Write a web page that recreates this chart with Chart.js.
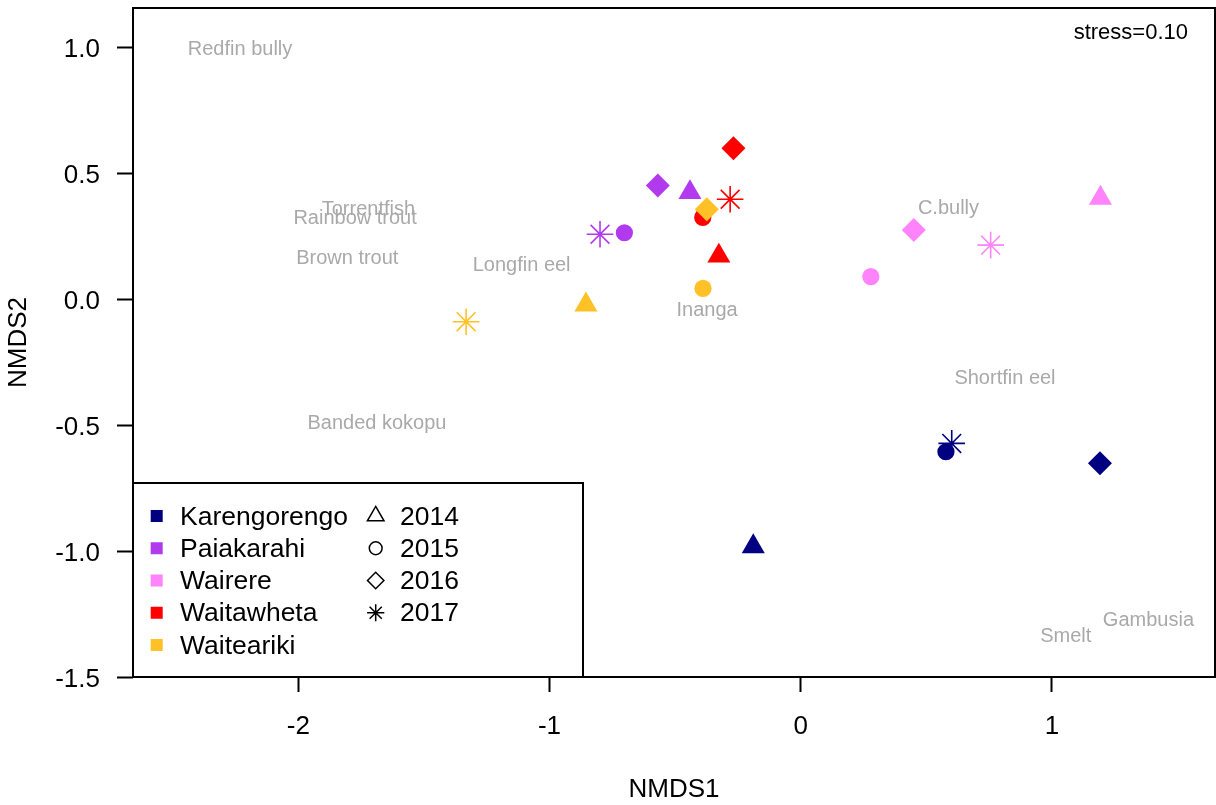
<!DOCTYPE html>
<html>
<head>
<meta charset="utf-8">
<title>NMDS ordination of fish communities</title>
<script src="https://cdn.jsdelivr.net/npm/chart.js@4/dist/chart.umd.min.js"></script>
<style>
  html, body { margin: 0; padding: 0; background: #ffffff; }
  #wrap { width: 1216px; height: 805px; }
</style>
</head>
<body>
<div id="wrap"><canvas id="nmds" width="1216" height="805"></canvas></div>
<script>
// ---- Sites, sampling years and their symbols ----
const sites = ['Karengorengo', 'Paiakarahi', 'Wairere', 'Waitawheta', 'Waiteariki'];
const siteColors = ['#000080', '#B23AEE', '#FF83FA', '#FF0000', '#FFC125'];
const years = ['2014', '2015', '2016', '2017'];
const yearShapes = ['triangle', 'circle', 'rectRot', 'star'];

// ---- Site scores (one value per year: 2014, 2015, 2016, 2017) ----
const karengorengoNMDS1 = [-0.189, 0.578, 1.191, 0.601];
const karengorengoNMDS2 = [-0.982, -0.606, -0.652, -0.573];
const paiakarahiNMDS1 = [-0.441, -0.702, -0.569, -0.799];
const paiakarahiNMDS2 = [0.423, 0.263, 0.451, 0.257];
const wairereNMDS1 = [1.193, 0.279, 0.450, 0.756];
const wairereNMDS2 = [0.401, 0.089, 0.274, 0.214];
const waitawhetaNMDS1 = [-0.326, -0.390, -0.268, -0.281];
const waitawhetaNMDS2 = [0.171, 0.324, 0.598, 0.396];
const waitearikiNMDS1 = [-0.855, -0.389, -0.374, -1.332];
const waitearikiNMDS2 = [-0.023, 0.042, 0.356, -0.090];

// ---- Species scores ----
const speciesNames = ['Redfin bully', 'Torrentfish', 'Rainbow trout', 'Brown trout', 'Longfin eel',
  'Inanga', 'C.bully', 'Shortfin eel', 'Banded kokopu', 'Smelt', 'Gambusia'];
const speciesNMDS1 = [-2.232, -1.721, -1.774, -1.805, -1.111, -0.373, 0.588, 0.813, -1.687, 1.055, 1.384];
const speciesNMDS2 = [0.996, 0.360, 0.324, 0.165, 0.139, -0.040, 0.364, -0.310, -0.488, -1.336, -1.271];

// ---- Axes ----
const nmds1Ticks = [-2, -1, 0, 1];
const nmds2Ticks = [-1.5, -1, -0.5, 0, 0.5, 1];
const nmds1Range = [-2.658, 1.649];
const nmds2Range = [-1.5, 1.155];
const stressLabel = 'stress=0.10';

const FONT = '"Liberation Sans", Arial, Helvetica, sans-serif';
Chart.defaults.font.family = FONT;

const siteScores = [
  [karengorengoNMDS1, karengorengoNMDS2],
  [paiakarahiNMDS1, paiakarahiNMDS2],
  [wairereNMDS1, wairereNMDS2],
  [waitawhetaNMDS1, waitawhetaNMDS2],
  [waitearikiNMDS1, waitearikiNMDS2]
];

// marker size and outline per year symbol
const markerRadius = [13.3, 8.6, 12, 13.3];
const markerBorder = [0, 0, 0, 1.6];

const datasets = sites.map((site, i) => {
  const [xs, ys] = siteScores[i];
  return {
    label: site,
    data: xs.map((x, j) => ({ x: x, y: ys[j] })),
    pointStyle: yearShapes,
    pointRadius: markerRadius,
    pointHoverRadius: markerRadius,
    pointBorderWidth: markerBorder,
    pointBackgroundColor: siteColors[i],
    pointBorderColor: siteColors[i],
    showLine: false,
    order: sites.length - i   // later sites drawn on top
  };
});

function drawSymbol(ctx, style, radius, lineWidth, x, y) {
  const h = Chart.helpers;
  if (h && h.drawPoint) {
    h.drawPoint(ctx, { pointStyle: style, radius: radius, borderWidth: lineWidth, rotation: 0 }, x, y);
    return;
  }
  ctx.beginPath();
  ctx.arc(x, y, radius, 0, Math.PI * 2);
  ctx.stroke();
}

// keep the plot box fixed: no extra room reserved for edge tick labels
function fixAxisBox(axis, size) {
  if (axis.isHorizontal()) axis.height = size; else axis.width = size;
  axis.paddingTop = 0;
  axis.paddingBottom = 0;
  axis.paddingLeft = 0;
  axis.paddingRight = 0;
}

const ordinationDecor = {
  id: 'ordinationDecor',
  beforeDatasetsDraw(chart) {
    const { ctx, scales } = chart;
    ctx.save();
    ctx.font = '20px ' + FONT;
    ctx.fillStyle = '#A9A9A9';
    ctx.textAlign = 'center';
    ctx.textBaseline = 'middle';
    speciesNames.forEach((name, i) => {
      ctx.fillText(name, scales.x.getPixelForValue(speciesNMDS1[i]), scales.y.getPixelForValue(speciesNMDS2[i]) + 1);
    });
    ctx.restore();
  },
  afterDraw(chart) {
    const { ctx, chartArea: a } = chart;
    ctx.save();
    // plot frame
    ctx.strokeStyle = '#000';
    ctx.lineWidth = 2;
    ctx.strokeRect(a.left, a.top, a.right - a.left, a.bottom - a.top);

    // stress value
    ctx.fillStyle = '#000';
    ctx.font = '22px ' + FONT;
    ctx.textAlign = 'right';
    ctx.textBaseline = 'middle';
    ctx.fillText(stressLabel, 1188, 33);

    // legend box in the lower-left corner
    const lx0 = a.left, ly0 = 483, lx1 = 583, ly1 = a.bottom;
    ctx.fillStyle = '#fff';
    ctx.fillRect(lx0, ly0, lx1 - lx0, ly1 - ly0);
    ctx.lineWidth = 2;
    ctx.strokeStyle = '#000';
    ctx.strokeRect(lx0, ly0, lx1 - lx0, ly1 - ly0);

    const rowY = i => 516 + i * 32.25;
    ctx.font = '26.5px ' + FONT;
    ctx.textAlign = 'left';
    ctx.textBaseline = 'middle';
    sites.forEach((site, i) => {
      const y = rowY(i);
      ctx.fillStyle = siteColors[i];
      ctx.fillRect(150.7, y - 6, 12, 12);
      ctx.fillStyle = '#000';
      ctx.fillText(site, 180, y + 1.2);
    });
    const legendRadius = [9.6, 6.4, 8.2, 8.6];
    years.forEach((yr, i) => {
      const y = rowY(i);
      ctx.fillStyle = '#fff';
      ctx.strokeStyle = '#000';
      ctx.lineWidth = 1.5;
      drawSymbol(ctx, yearShapes[i], legendRadius[i], 1.5, 375.7, y);
      ctx.fillStyle = '#000';
      ctx.fillText(yr, 400, y + 1.2);
    });
    ctx.restore();
  }
};

new Chart(document.getElementById('nmds'), {
  type: 'scatter',
  data: { datasets: datasets },
  options: {
    responsive: false,
    animation: false,
    events: [],
    layout: { autoPadding: false, padding: { left: 0, right: 1, top: 8, bottom: 0 } },
    plugins: { legend: { display: false }, tooltip: { enabled: false } },
    scales: {
      x: {
        type: 'linear',
        position: 'bottom',
        min: nmds1Range[0],
        max: nmds1Range[1],
        afterBuildTicks: axis => { axis.ticks = nmds1Ticks.map(v => ({ value: v })); },
        afterFit: axis => fixAxisBox(axis, 128),
        ticks: {
          autoSkip: false, maxRotation: 0, padding: 19, color: '#000',
          font: { size: 26 },
          callback: v => String(v)
        },
        grid: { drawOnChartArea: false, drawTicks: true, tickLength: 15, tickColor: '#000', tickWidth: 2 },
        border: { display: false },
        title: { display: true, text: 'NMDS1', color: '#000', font: { size: 26 }, padding: { top: 0, bottom: 0 } }
      },
      y: {
        type: 'linear',
        position: 'left',
        min: nmds2Range[0],
        max: nmds2Range[1],
        afterBuildTicks: axis => { axis.ticks = nmds2Ticks.map(v => ({ value: v })); },
        afterFit: axis => fixAxisBox(axis, 133),
        ticks: {
          autoSkip: false, padding: 17, labelOffset: 3, color: '#000',
          font: { size: 26 },
          callback: v => Number(v).toFixed(1)
        },
        grid: { drawOnChartArea: false, drawTicks: true, tickLength: 16, tickColor: '#000', tickWidth: 2 },
        border: { display: false },
        title: { display: true, text: 'NMDS2', color: '#000', font: { size: 26 }, padding: { top: 3, bottom: 0 } }
      }
    }
  },
  plugins: [ordinationDecor]
});
</script>
</body>
</html>
